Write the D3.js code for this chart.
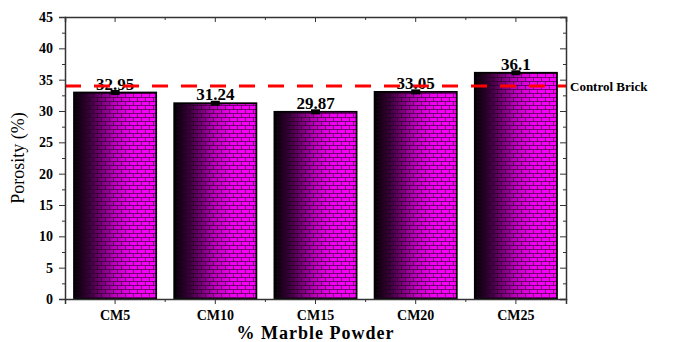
<!DOCTYPE html>
<html>
<head>
<meta charset="utf-8">
<script src="https://cdn.jsdelivr.net/npm/d3@7"></script>
<style>
  body { margin: 0; background: #fff; }
  text { font-family: "Liberation Serif", "Times New Roman", serif; }
</style>
</head>
<body>
<div id="chart"></div>
<script>
// data
var categories = ["CM5", "CM10", "CM15", "CM20", "CM25"];
var porosity = [32.95, 31.24, 29.87, 33.05, 36.1];
var errors = [0.4, 0.4, 0.4, 0.4, 0.4];
var valueLabels = ["32.95", "31.24", "29.87", "33.05", "36.1"];
var controlValue = 34;
var yTicks = [0, 5, 10, 15, 20, 25, 30, 35, 40, 45];

var width = 680, height = 342;
var margin = {left: 65, right: 114, top: 17, bottom: 43};
var plotW = width - margin.left - margin.right,
    plotH = height - margin.top - margin.bottom;

var svg = d3.select("#chart").append("svg")
  .attr("width", width)
  .attr("height", height);

var defs = svg.append("defs");

// black -> magenta gradient across each bar
var grad = defs.append("linearGradient")
  .attr("id", "barGrad")
  .attr("x1", "0%").attr("x2", "100%")
  .attr("y1", "0%").attr("y2", "0%");
grad.append("stop").attr("offset", "0%").attr("stop-color", "#000000");
grad.append("stop").attr("offset", "20%").attr("stop-color", "#400040");
grad.append("stop").attr("offset", "50%").attr("stop-color", "#c000c0");
grad.append("stop").attr("offset", "70%").attr("stop-color", "#f000f0");
grad.append("stop").attr("offset", "100%").attr("stop-color", "#ff00ff");

// brick texture
var brick = defs.append("pattern")
  .attr("id", "brick")
  .attr("patternUnits", "userSpaceOnUse")
  .attr("width", 8).attr("height", 8);
brick.append("path")
  .attr("d", "M0,0.5H8M0,4.5H8M0.5,0.5V4.5M4.5,4.5V8.5")
  .attr("stroke", "#200020")
  .attr("stroke-opacity", 0.6)
  .attr("stroke-width", 1)
  .attr("fill", "none");

var g = svg.append("g")
  .attr("transform", "translate(" + margin.left + "," + margin.top + ")");

var x = d3.scaleBand()
  .domain(categories)
  .range([0, plotW])
  .paddingInner(0.18)
  .paddingOuter(0.09);

var y = d3.scaleLinear()
  .domain([0, 45])
  .range([plotH, 0]);

// minor ticks on y
var yMinor = d3.range(2.5, 45, 5);

// bars
var bars = g.selectAll("g.bar")
  .data(categories)
  .enter()
  .append("g")
  .attr("class", "bar");

bars.append("rect")
  .attr("x", function(d) { return x(d); })
  .attr("y", function(d, i) { return y(porosity[i]); })
  .attr("width", x.bandwidth())
  .attr("height", function(d, i) { return plotH - y(porosity[i]); })
  .attr("fill", "url(#barGrad)");

bars.append("rect")
  .attr("x", function(d) { return x(d); })
  .attr("y", function(d, i) { return y(porosity[i]); })
  .attr("width", x.bandwidth())
  .attr("height", function(d, i) { return plotH - y(porosity[i]); })
  .attr("fill", "url(#brick)")
  .attr("stroke", "#000")
  .attr("stroke-width", 1.8);

// error caps
bars.append("rect")
  .attr("x", function(d) { return x(d) + x.bandwidth() / 2 - 4.5; })
  .attr("y", function(d, i) { return y(porosity[i] + errors[i]); })
  .attr("width", 9)
  .attr("height", function(d, i) { return y(porosity[i] - errors[i]) - y(porosity[i] + errors[i]); })
  .attr("fill", "#000");

// control brick line
g.append("line")
  .attr("x1", 0)
  .attr("x2", plotW)
  .attr("y1", y(controlValue))
  .attr("y2", y(controlValue))
  .attr("stroke", "#ff0000")
  .attr("stroke-width", 3)
  .attr("stroke-dasharray", "16,13");

// value labels
bars.append("text")
  .attr("x", function(d) { return x(d) + x.bandwidth() / 2; })
  .attr("y", function(d, i) { return y(porosity[i]) - 3; })
  .attr("text-anchor", "middle")
  .style("font-size", "17px")
  .style("font-weight", "bold")
  .text(function(d, i) { return valueLabels[i]; });

g.append("text")
  .attr("x", plotW + 4)
  .attr("y", y(controlValue) + 5)
  .style("font-size", "13px")
  .style("font-weight", "bold")
  .text("Control Brick");

// axes
var axisColor = "#333";
var yAxis = g.append("g")
  .call(d3.axisLeft(y).tickValues(yTicks).tickSize(6).tickPadding(6));
yAxis.selectAll("text")
  .style("font-size", "14px")
  .style("font-weight", "bold")
  .style("font-family", "Liberation Serif, serif")
  .attr("fill", "#000");

g.append("g")
  .call(d3.axisLeft(y).tickValues(yMinor).tickSize(3).tickFormat(""))
  .select(".domain").remove();

var yRight = g.append("g")
  .attr("transform", "translate(" + plotW + ",0)")
  .call(d3.axisLeft(y).tickValues(yTicks).tickSize(6).tickFormat(""));
g.append("g")
  .attr("transform", "translate(" + plotW + ",0)")
  .call(d3.axisLeft(y).tickValues(yMinor).tickSize(3).tickFormat(""))
  .select(".domain").remove();

var xAxis = g.append("g")
  .attr("transform", "translate(0," + plotH + ")")
  .call(d3.axisBottom(x).tickSize(5).tickPadding(6));
xAxis.selectAll("text")
  .style("font-size", "14px")
  .style("font-weight", "bold")
  .style("font-family", "Liberation Serif, serif")
  .attr("fill", "#000");

// minor x ticks between categories
var xMinor = categories.slice(1).map(function(d) { return x(d) - x.step() * x.paddingInner() / 2; });
g.append("g")
  .attr("transform", "translate(0," + plotH + ")")
  .selectAll("line")
  .data(xMinor)
  .enter()
  .append("line")
  .attr("x1", function(d) { return d; })
  .attr("x2", function(d) { return d; })
  .attr("y1", 0)
  .attr("y2", 3)
  .attr("stroke", axisColor);

var xTop = g.append("g")
  .call(d3.axisBottom(x).tickSize(5).tickFormat(""));
g.append("g")
  .selectAll("line")
  .data(xMinor)
  .enter()
  .append("line")
  .attr("x1", function(d) { return d; })
  .attr("x2", function(d) { return d; })
  .attr("y1", 0)
  .attr("y2", 3)
  .attr("stroke", axisColor);

g.selectAll(".domain").attr("stroke", axisColor).attr("stroke-width", 1.5);
g.selectAll(".tick line").attr("stroke", axisColor);

// axis titles
svg.append("text")
  .attr("transform", "translate(24," + (margin.top + plotH / 2) + ") rotate(-90)")
  .attr("text-anchor", "middle")
  .style("font-size", "18px")
  .text("Porosity (%)");

svg.append("text")
  .attr("x", margin.left + plotW / 2)
  .attr("y", 339)
  .attr("text-anchor", "middle")
  .style("font-size", "18px")
  .style("font-weight", "bold")
  .style("letter-spacing", "1px")
  .text("% Marble Powder");
</script>
</body>
</html>
